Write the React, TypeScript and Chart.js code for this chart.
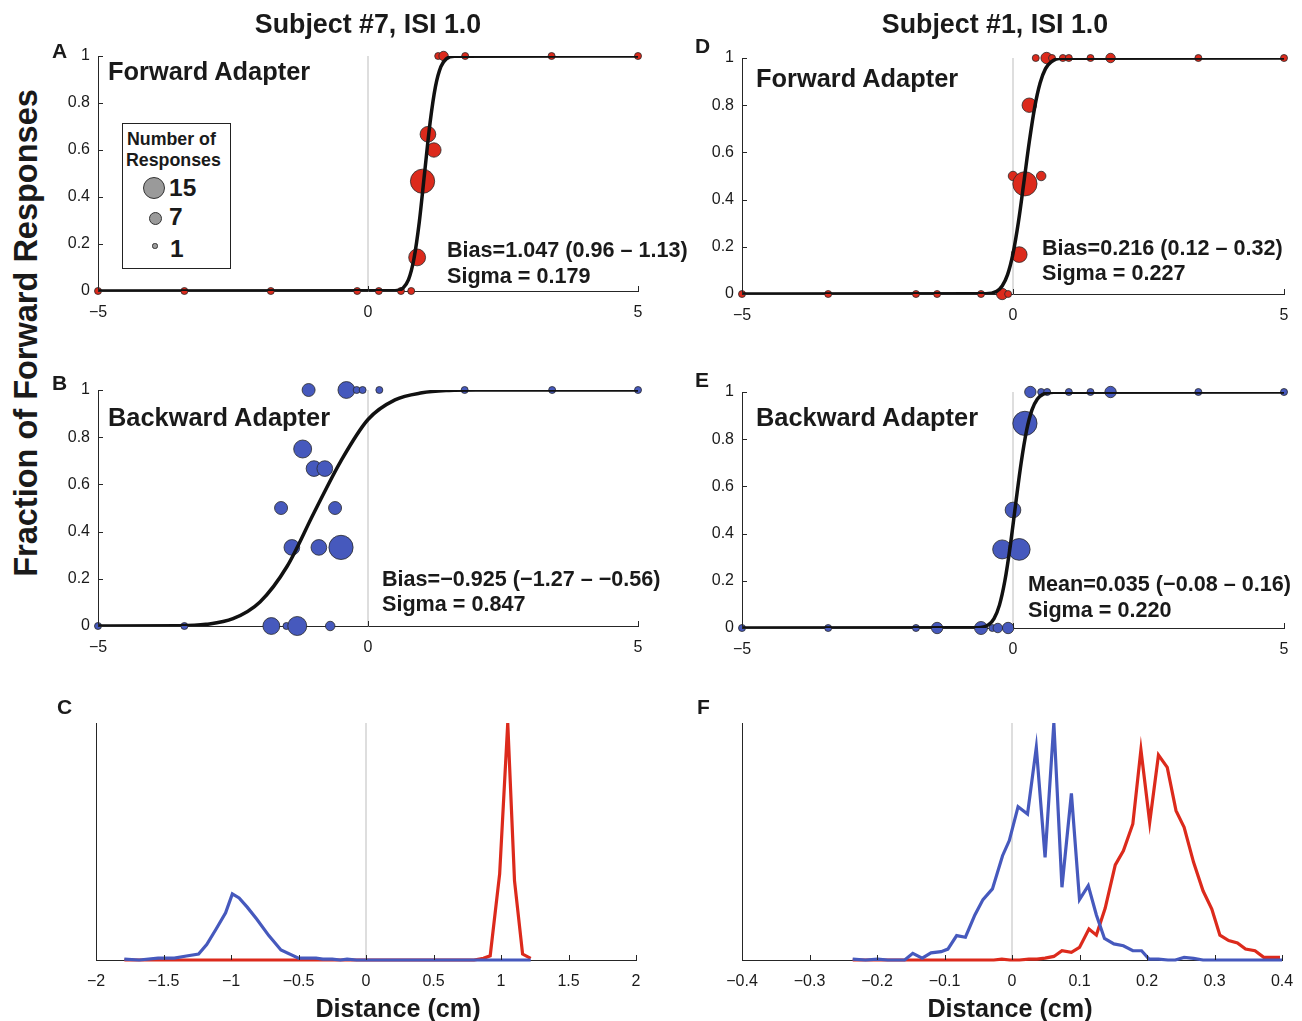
import React, { useEffect, useRef } from "react";
import { Chart, registerables } from "chart.js";

Chart.register(...registerables);

const FONT = '"Liberation Sans", Arial, Helvetica, sans-serif';
const RED = "#dc2a1c";
const BLUE = "#4659bd";
const AXIS = "#262626";
const TXT = "#1a1a1a";
const ZERO = "#bdbdbd";

// ---------- tick values ----------
const psychXTicks = [-5, 0, 5];
const psychYTicks = [0, 0.2, 0.4, 0.6, 0.8, 1];
const distCXTicks = [-2, -1.5, -1, -0.5, 0, 0.5, 1, 1.5, 2];
const distFXTicks = [-0.4, -0.3, -0.2, -0.1, 0, 0.1, 0.2, 0.3, 0.4];

// ---------- Panel A: Subject #7, forward adapter ----------
const aDotX = [-5, -3.4, -1.8, -0.2, 0.2, 0.61, 0.8, 0.91, 1.01, 1.11, 1.22, 1.3, 1.4, 1.8, 3.4, 5];
const aDotY = [0, 0, 0, 0, 0, 0, 0, 0.143, 0.467, 0.667, 0.6, 1, 1, 1, 1, 1];
const aDotN = [1, 1, 1, 1, 1, 1, 1, 7, 15, 6, 5, 1, 2, 1, 1, 1];
const aFitX = [-5, 0.5, 0.65, 0.75, 0.85, 0.95, 1.05, 1.15, 1.25, 1.35, 1.45, 1.6, 5];
const aFitY = [0, 0.001, 0.013, 0.048, 0.136, 0.294, 0.507, 0.717, 0.871, 0.955, 0.988, 0.999, 1];

// ---------- Panel B: Subject #7, backward adapter ----------
const bDotX = [-5, -3.4, -1.79, -1.51, -1.31, -0.7, -1.61, -0.61, -1.41, -0.91, -0.5, -1.0, -0.8, -1.21, -1.1, -0.4, -0.21, -0.1, 0.21, 1.79, 3.41, 5];
const bDotY = [0, 0, 0, 0, 0, 0, 0.5, 0.5, 0.333, 0.333, 0.333, 0.667, 0.667, 0.75, 1, 1, 1, 1, 1, 1, 1, 1];
const bDotN = [1, 1, 7, 1, 9, 2, 4, 4, 6, 6, 15, 6, 6, 8, 4, 7, 1, 1, 1, 1, 1, 1];
const bFitX = [-5, -3.5, -3.0, -2.5, -2.0, -1.5, -1.0, -0.5, 0, 0.5, 1.0, 1.5, 2.0, 5];
const bFitY = [0, 0.001, 0.007, 0.031, 0.102, 0.252, 0.48, 0.7, 0.875, 0.958, 0.988, 0.998, 1, 1];

// ---------- Panel D: Subject #1, forward adapter ----------
const dDotX = [-5, -3.41, -1.79, -1.4, -0.59, -0.2, -0.09, 0.0, 0.22, 0.52, 0.115, 0.3, 0.42, 0.62, 0.72, 0.92, 1.03, 1.43, 1.8, 3.42, 5];
const dDotY = [0, 0, 0, 0, 0, 0, 0, 0.5, 0.467, 0.5, 0.167, 0.8, 1, 1, 1, 1, 1, 1, 1, 1, 1];
const dDotN = [1, 1, 1, 1, 1, 3, 1, 2, 15, 2, 6, 5, 1, 3, 1, 1, 1, 1, 2, 1, 1];
const dFitX = [-5, -0.5, -0.3, -0.2, -0.1, 0, 0.1, 0.2, 0.3, 0.4, 0.5, 0.6, 0.7, 0.9, 5];
const dFitY = [0, 0.001, 0.012, 0.034, 0.082, 0.171, 0.305, 0.472, 0.644, 0.791, 0.894, 0.955, 0.983, 0.999, 1];

// ---------- Panel E: Subject #1, backward adapter ----------
const eDotX = [-5, -3.41, -1.79, -1.4, -0.59, -0.38, -0.28, -0.09, -0.2, 0.115, 0.0, 0.22, 0.32, 0.52, 0.63, 1.03, 1.43, 1.8, 3.42, 5];
const eDotY = [0, 0, 0, 0, 0, 0, 0, 0, 0.333, 0.333, 0.5, 0.867, 1, 1, 1, 1, 1, 1, 1, 1];
const eDotN = [1, 1, 1, 3, 4, 1, 2, 3, 9, 12, 6, 15, 3, 1, 1, 1, 1, 3, 1, 1];
const eFitX = [-5, -0.65, -0.45, -0.35, -0.25, -0.15, -0.05, 0.05, 0.15, 0.25, 0.35, 0.45, 0.55, 0.75, 5];
const eFitY = [0, 0.001, 0.014, 0.04, 0.097, 0.2, 0.349, 0.527, 0.699, 0.836, 0.924, 0.97, 0.99, 0.999, 1];

// ---------- Panel C: Subject #7 bias distributions ----------
const cBlueX = [-1.79, -1.68, -1.54, -1.42, -1.33, -1.24, -1.18, -1.11, -1.04, -0.99, -0.94, -0.88, -0.81, -0.72, -0.63, -0.5, -0.37, -0.32, -0.25, -0.19, -0.14, -0.07, 1.22];
const cBlueY = [0.004, 0, 0.008, 0.008, 0.017, 0.025, 0.065, 0.131, 0.199, 0.279, 0.262, 0.223, 0.173, 0.103, 0.042, 0.008, 0.008, 0.004, 0.004, 0, 0.004, 0, 0];
const cRedX = [-1.79, 0.8, 0.87, 0.92, 0.99, 1.05, 1.1, 1.16, 1.22];
const cRedY = [0, 0, 0.007, 0.018, 0.363, 1.0, 0.335, 0.025, 0.007];

// ---------- Panel F: Subject #1 bias distributions ----------
const fBlueX = [-0.236, -0.217, -0.199, -0.184, -0.159, -0.147, -0.133, -0.12, -0.105, -0.095, -0.082, -0.069, -0.055, -0.043, -0.029, -0.014, -0.004, 0.009, 0.023, 0.036, 0.049, 0.062, 0.074, 0.088, 0.1, 0.113, 0.125, 0.137, 0.151, 0.165, 0.179, 0.192, 0.203, 0.217, 0.231, 0.242, 0.255, 0.269, 0.283, 0.4];
const fBlueY = [0.004, 0, 0.004, 0, 0, 0.028, 0.008, 0.03, 0.035, 0.046, 0.103, 0.096, 0.19, 0.255, 0.3, 0.44, 0.504, 0.647, 0.616, 0.897, 0.433, 1.0, 0.307, 0.703, 0.255, 0.314, 0.19, 0.091, 0.068, 0.06, 0.039, 0.039, 0.004, 0.004, 0, 0, 0.011, 0.007, 0, 0];
const fRedX = [-0.236, -0.027, -0.015, -0.003, 0.011, 0.025, 0.037, 0.049, 0.062, 0.074, 0.088, 0.1, 0.114, 0.125, 0.138, 0.153, 0.165, 0.179, 0.191, 0.204, 0.217, 0.23, 0.243, 0.255, 0.269, 0.283, 0.296, 0.308, 0.321, 0.334, 0.346, 0.36, 0.373, 0.385, 0.397];
const fRedY = [0, 0, 0.004, 0, 0, 0.004, 0.004, 0.008, 0.015, 0.039, 0.032, 0.053, 0.131, 0.105, 0.218, 0.401, 0.461, 0.574, 0.887, 0.581, 0.865, 0.813, 0.63, 0.56, 0.412, 0.292, 0.215, 0.105, 0.082, 0.072, 0.046, 0.039, 0.011, 0.011, 0.011];

// ---------- layout helpers ----------
const PAD = { l: 50, t: 20, r: 25, b: 35 };
type Area = { l: number; t: number; w: number; h: number };

const areaA: Area = { l: 98, t: 56, w: 540, h: 235 };
const areaB: Area = { l: 98, t: 390, w: 540, h: 236 };
const areaC: Area = { l: 96, t: 723, w: 540, h: 237 };
const areaD: Area = { l: 742, t: 58, w: 542, h: 236 };
const areaE: Area = { l: 742, t: 392, w: 542, h: 236 };
const areaF: Area = { l: 742, t: 723, w: 540, h: 237 };

const fmt = (v: number) => String(v).replace("-", "\u2212");
const pts = (xs: number[], ys: number[]) => xs.map((x, i) => ({ x, y: ys[i] }));
const radiusFor = (n: number) => 0.5 + 3 * Math.sqrt(n);

const inwardTicks = {
  id: "inwardTicks",
  afterDraw(chart: any, _args: any, opts: any) {
    const ctx = chart.ctx;
    const xs = chart.scales.x;
    const ys = chart.scales.y;
    ctx.save();
    ctx.strokeStyle = AXIS;
    ctx.lineWidth = 1;
    if (opts.x) {
      xs.ticks.forEach((t: any) => {
        const px = Math.round(xs.getPixelForValue(t.value)) + 0.5;
        ctx.beginPath();
        ctx.moveTo(px, ys.bottom);
        ctx.lineTo(px, ys.bottom - 5);
        ctx.stroke();
      });
    }
    if (opts.y) {
      ys.ticks.forEach((t: any) => {
        const py = Math.round(ys.getPixelForValue(t.value)) + 0.5;
        ctx.beginPath();
        ctx.moveTo(xs.left, py);
        ctx.lineTo(xs.left + 5, py);
        ctx.stroke();
      });
    }
    ctx.restore();
  },
};

function baseOptions(xMin: number, xMax: number, xTicks: number[], yTicks: number[], showY: boolean): any {
  return {
    animation: false,
    responsive: false,
    events: [],
    layout: { padding: { top: PAD.t, right: PAD.r, left: 0, bottom: 0 } },
    plugins: {
      legend: { display: false },
      tooltip: { enabled: false },
      inwardTicks: { x: true, y: showY },
    },
    scales: {
      x: {
        type: "linear",
        min: xMin,
        max: xMax,
        grid: { display: false, drawTicks: false },
        border: { display: true, color: AXIS, width: 1 },
        ticks: {
          autoSkip: false,
          maxRotation: 0,
          padding: 12,
          color: TXT,
          font: { size: 16, family: FONT },
          callback: (v: number) => fmt(v),
        },
        afterBuildTicks: (s: any) => {
          s.ticks = xTicks.map((v) => ({ value: v }));
        },
        afterFit: (s: any) => {
          s.height = PAD.b;
          s.paddingLeft = 0;
          s.paddingRight = 0;
        },
      },
      y: {
        type: "linear",
        min: 0,
        max: 1,
        grid: { display: false, drawTicks: false },
        border: { display: true, color: AXIS, width: 1 },
        ticks: {
          display: showY,
          autoSkip: false,
          padding: 8,
          color: TXT,
          font: { size: 16, family: FONT },
          callback: (v: number) => fmt(v),
        },
        afterBuildTicks: (s: any) => {
          s.ticks = yTicks.map((v) => ({ value: v }));
        },
        afterFit: (s: any) => {
          s.width = PAD.l;
          s.paddingTop = 0;
          s.paddingBottom = 0;
        },
      },
    },
  };
}

function psychConfig(dx: number[], dy: number[], dn: number[], fx: number[], fy: number[], color: string) {
  return () => ({
    type: "line",
    data: {
      datasets: [
        {
          data: pts(fx, fy),
          borderColor: "#111111",
          borderWidth: 3.5,
          pointRadius: 0,
          cubicInterpolationMode: "monotone",
          fill: false,
          order: 0,
        },
        {
          data: pts(dx, dy),
          showLine: false,
          pointRadius: dn.map(radiusFor),
          pointBackgroundColor: color,
          pointBorderColor: "#2a2a2a",
          pointBorderWidth: 0.8,
          clip: false,
          order: 1,
        },
        {
          data: pts([0, 0], [0, 1]),
          borderColor: ZERO,
          borderWidth: 1,
          pointRadius: 0,
          order: 2,
        },
      ],
    },
    options: baseOptions(-5, 5, psychXTicks, psychYTicks, true),
    plugins: [inwardTicks],
  });
}

function distConfig(rx: number[], ry: number[], bx: number[], by: number[], xMin: number, xMax: number, xTicks: number[]) {
  return () => ({
    type: "line",
    data: {
      datasets: [
        {
          data: pts(bx, by),
          borderColor: BLUE,
          borderWidth: 3.2,
          pointRadius: 0,
          tension: 0,
          clip: false,
          order: 0,
        },
        {
          data: pts(rx, ry),
          borderColor: RED,
          borderWidth: 3.2,
          pointRadius: 0,
          tension: 0,
          clip: false,
          order: 1,
        },
        {
          data: pts([0, 0], [0, 1]),
          borderColor: ZERO,
          borderWidth: 1,
          pointRadius: 0,
          order: 2,
        },
      ],
    },
    options: baseOptions(xMin, xMax, xTicks, [], false),
    plugins: [inwardTicks],
  });
}

function ChartPanel({ area, make }: { area: Area; make: () => any }) {
  const ref = useRef<HTMLCanvasElement>(null);
  const W = area.w + PAD.l + PAD.r;
  const H = area.h + PAD.t + PAD.b;
  useEffect(() => {
    const chart = new Chart(ref.current as HTMLCanvasElement, make());
    return () => chart.destroy();
  }, []);
  return (
    <canvas
      ref={ref}
      width={W}
      height={H}
      style={{ position: "absolute", left: area.l - PAD.l, top: area.t - PAD.t, width: W, height: H }}
    />
  );
}

const ASC = 0.8465;
function Txt({ x, base, size, bold = true, mid = false, children }: any) {
  const style: any = {
    position: "absolute",
    left: x,
    top: base - ASC * size,
    fontSize: size,
    lineHeight: `${size}px`,
    fontWeight: bold ? 700 : 400,
    whiteSpace: "nowrap",
    color: TXT,
  };
  if (mid) style.transform = "translateX(-50%)";
  return <div style={style}>{children}</div>;
}

function Dot({ cx, cy, r }: { cx: number; cy: number; r: number }) {
  return (
    <div
      style={{
        position: "absolute",
        left: cx - r,
        top: cy - r,
        width: 2 * r,
        height: 2 * r,
        borderRadius: "50%",
        background: "#9a9a9a",
        border: "1px solid #333",
        boxSizing: "border-box",
      }}
    />
  );
}

export default function App() {
  Chart.defaults.font.family = FONT;
  return (
    <div
      style={{
        position: "absolute",
        left: 0,
        top: 0,
        width: 1302,
        height: 1021,
        background: "#ffffff",
        fontFamily: FONT,
        overflow: "hidden",
      }}
    >
      <ChartPanel area={areaA} make={psychConfig(aDotX, aDotY, aDotN, aFitX, aFitY, RED)} />
      <ChartPanel area={areaB} make={psychConfig(bDotX, bDotY, bDotN, bFitX, bFitY, BLUE)} />
      <ChartPanel area={areaD} make={psychConfig(dDotX, dDotY, dDotN, dFitX, dFitY, RED)} />
      <ChartPanel area={areaE} make={psychConfig(eDotX, eDotY, eDotN, eFitX, eFitY, BLUE)} />
      <ChartPanel area={areaC} make={distConfig(cRedX, cRedY, cBlueX, cBlueY, -2, 2, distCXTicks)} />
      <ChartPanel area={areaF} make={distConfig(fRedX, fRedY, fBlueX, fBlueY, -0.4, 0.4, distFXTicks)} />

      {/* column titles */}
      <Txt x={368} base={34} size={26.8} mid>Subject #7, ISI 1.0</Txt>
      <Txt x={995} base={34} size={26.8} mid>Subject #1, ISI 1.0</Txt>

      {/* panel letters */}
      <Txt x={52} base={58} size={21}>A</Txt>
      <Txt x={52} base={390} size={21}>B</Txt>
      <Txt x={57} base={714} size={21}>C</Txt>
      <Txt x={695} base={53} size={21}>D</Txt>
      <Txt x={695} base={387} size={21}>E</Txt>
      <Txt x={697} base={714} size={21}>F</Txt>

      {/* y-axis label */}
      <div
        style={{
          position: "absolute",
          left: 26,
          top: 333,
          transform: "translate(-50%, -50%) rotate(-90deg)",
          fontSize: 32.5,
          lineHeight: "32px",
          fontWeight: 700,
          whiteSpace: "nowrap",
          color: TXT,
        }}
      >
        Fraction of Forward Responses
      </div>

      {/* panel captions */}
      <Txt x={108} base={81} size={25.4}>Forward Adapter</Txt>
      <Txt x={108} base={427} size={25.4}>Backward Adapter</Txt>
      <Txt x={756} base={88} size={25.4}>Forward Adapter</Txt>
      <Txt x={756} base={427} size={25.4}>Backward Adapter</Txt>

      {/* fit statistics */}
      <Txt x={447} base={257} size={21.6}>Bias=1.047 (0.96 – 1.13)</Txt>
      <Txt x={447} base={283} size={21.6}>Sigma = 0.179</Txt>
      <Txt x={382} base={586} size={21.6}>Bias=−0.925 (−1.27 – −0.56)</Txt>
      <Txt x={382} base={611} size={21.6}>Sigma = 0.847</Txt>
      <Txt x={1042} base={255} size={21.6}>Bias=0.216 (0.12 – 0.32)</Txt>
      <Txt x={1042} base={280} size={21.6}>Sigma = 0.227</Txt>
      <Txt x={1028} base={591} size={21.6}>Mean=0.035 (−0.08 – 0.16)</Txt>
      <Txt x={1028} base={617} size={21.6}>Sigma = 0.220</Txt>

      {/* x-axis titles */}
      <Txt x={398} base={1017} size={25.2} mid>Distance (cm)</Txt>
      <Txt x={1010} base={1017} size={25.2} mid>Distance (cm)</Txt>

      {/* size legend */}
      <div
        style={{
          position: "absolute",
          left: 122,
          top: 123,
          width: 109,
          height: 146,
          border: "1.5px solid #222",
          boxSizing: "border-box",
          background: "#fff",
        }}
      />
      <Txt x={127} base={146} size={17.8}>Number of</Txt>
      <Txt x={126} base={167} size={17.8}>Responses</Txt>
      <Dot cx={154} cy={188} r={11} />
      <Dot cx={155} cy={218} r={6.5} />
      <Dot cx={155} cy={246} r={2.6} />
      <Txt x={169} base={197} size={24.5}>15</Txt>
      <Txt x={169} base={226} size={24.5}>7</Txt>
      <Txt x={170} base={258} size={24.5}>1</Txt>
    </div>
  );
}
